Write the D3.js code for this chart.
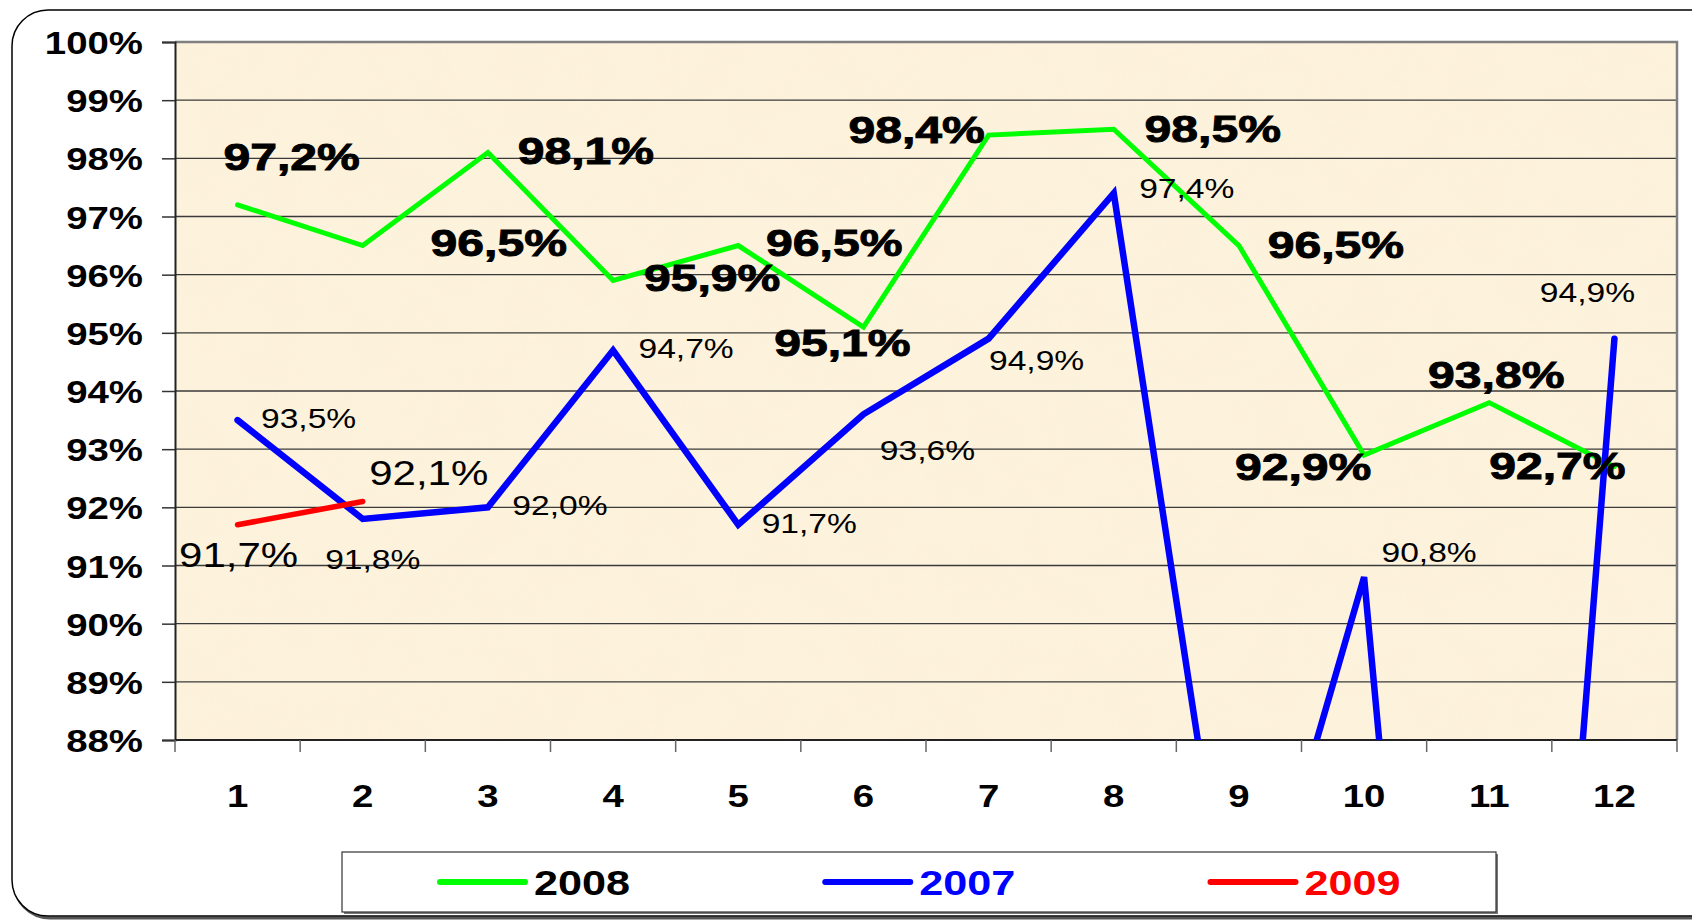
<!DOCTYPE html>
<html>
<head>
<meta charset="utf-8">
<script src="https://cdn.jsdelivr.net/npm/d3@7/dist/d3.min.js"></script>
<style>
  html, body { margin: 0; padding: 0; background: #fff; overflow: hidden; }
  svg { display: block; }
  text { font-family: "Liberation Sans", Arial, sans-serif; }
</style>
</head>
<body>
<div id="chart"></div>
<script>
// Données
const months = ["1", "2", "3", "4", "5", "6", "7", "8", "9", "10", "11", "12"];
const yTickValues = [88, 89, 90, 91, 92, 93, 94, 95, 96, 97, 98, 99, 100];
const values2008 = [97.2, 96.5, 98.1, 95.9, 96.5, 95.1, 98.4, 98.5, 96.5, 92.9, 93.8, 92.7];
const values2007 = [93.5, 91.8, 92.0, 94.7, 91.7, 93.6, 94.9, 97.4, 83.4, 90.8, 67.6, 94.9];
const values2009 = [91.7, 92.1];
const labels2008 = ["97,2%", "96,5%", "98,1%", "95,9%", "96,5%", "95,1%", "98,4%", "98,5%", "96,5%", "92,9%", "93,8%", "92,7%"];
const labels2007 = ["93,5%", "91,8%", "92,0%", "94,7%", "91,7%", "93,6%", "94,9%", "97,4%", null, "90,8%", null, "94,9%"];
const labels2009 = ["91,7%", "92,1%"];
const legendNames = ["2008", "2007", "2009"];

// Placement des étiquettes (décalage en px par rapport au point)
const offsets2008 = [[54, -48], [136, -3], [98, -2], [99, -3], [96, -3], [-21, 16], [-72, -5], [99, -1], [97, -1], [-61, 12], [7, -28], [-57, -1]];
const offsets2007 = [[71, -2], [10, 40], [72, -2], [73, -2], [71, -2], [64, 36], [48, 21], [73, -5], null, [65, -25], null, [-27, -47]];
const offsets2009 = [[1, 30], [66, -29]];

const WIDTH = 1692, HEIGHT = 920;
const PLOT = { left: 175, right: 1677, top: 42, bottom: 740 };
const STRETCH = 1.2; // texte élargi comme dans l'original

const svg = d3.select("#chart").append("svg")
    .attr("width", WIDTH)
    .attr("height", HEIGHT);

const defs = svg.append("defs");

// Texture papier
const paper = defs.append("filter").attr("id", "paper")
    .attr("x", 0).attr("y", 0).attr("width", 1).attr("height", 1);
paper.append("feTurbulence")
    .attr("type", "fractalNoise")
    .attr("baseFrequency", 0.02)
    .attr("numOctaves", 4)
    .attr("seed", 7);
paper.append("feColorMatrix")
    .attr("type", "matrix")
    .attr("values", "0 0 0 0 0.95  0 0 0 0 0.86  0 0 0 0 0.68  0.8 0 0 0 -0.36");

defs.append("clipPath").attr("id", "plot-clip")
    .append("rect")
    .attr("x", PLOT.left)
    .attr("y", PLOT.top)
    .attr("width", PLOT.right - PLOT.left)
    .attr("height", PLOT.bottom - PLOT.top);

// Cadre arrondi
svg.append("rect")
    .attr("x", 14).attr("y", 12)
    .attr("width", 1720).attr("height", 906)
    .attr("rx", 36)
    .attr("fill", "none")
    .attr("stroke", "#555")
    .attr("stroke-width", 3);
svg.append("rect")
    .attr("x", 12).attr("y", 10)
    .attr("width", 1720).attr("height", 906)
    .attr("rx", 36)
    .attr("fill", "#fff")
    .attr("stroke", "#000")
    .attr("stroke-width", 1.5);

// Échelles
const x = d3.scaleBand()
    .domain(months)
    .range([PLOT.left, PLOT.right]);
const cx = m => x(m) + x.bandwidth() / 2;

const y = d3.scaleLinear()
    .domain([88, 100])
    .range([PLOT.bottom, PLOT.top]);

// Fond
svg.append("rect")
    .attr("x", PLOT.left).attr("y", PLOT.top)
    .attr("width", PLOT.right - PLOT.left)
    .attr("height", PLOT.bottom - PLOT.top)
    .attr("fill", "#fdf2dc");
svg.append("rect")
    .attr("x", PLOT.left).attr("y", PLOT.top)
    .attr("width", PLOT.right - PLOT.left)
    .attr("height", PLOT.bottom - PLOT.top)
    .attr("filter", "url(#paper)")
    .attr("opacity", 0.7);

// Grille
svg.append("g")
    .selectAll("line")
    .data(yTickValues.filter(v => v > 88 && v < 100))
    .join("line")
    .attr("x1", PLOT.left).attr("x2", PLOT.right)
    .attr("y1", d => y(d)).attr("y2", d => y(d))
    .attr("stroke", "#3a3a3a")
    .attr("stroke-width", 1.3);

// Bordure haut / droite
svg.append("path")
    .attr("d", `M${PLOT.left},${PLOT.top}H${PLOT.right}V${PLOT.bottom}`)
    .attr("fill", "none")
    .attr("stroke", "#808080")
    .attr("stroke-width", 2.5);

// Axe Y
const yAxis = svg.append("g")
    .attr("transform", `translate(${PLOT.left},0)`)
    .call(d3.axisLeft(y).tickValues(yTickValues).tickSize(13).tickPadding(32).tickFormat(d => d + "%"));
yAxis.select(".domain").attr("stroke", "#222").attr("stroke-width", 2);
yAxis.selectAll(".tick line").attr("stroke", "#333").attr("stroke-width", 1.5);
yAxis.selectAll(".tick text")
    .attr("font-size", 32)
    .attr("font-weight", "bold")
    .attr("fill", "#000")
    .attr("font-family", "'Liberation Sans', Arial, sans-serif")
    .attr("dy", "0.36em")
    .attr("x", -32 / STRETCH)
    .attr("transform", `scale(${STRETCH},1)`);

// Axe X (graduations entre catégories)
const xAxisG = svg.append("g");
xAxisG.append("line")
    .attr("x1", PLOT.left).attr("x2", PLOT.right)
    .attr("y1", PLOT.bottom).attr("y2", PLOT.bottom)
    .attr("stroke", "#222").attr("stroke-width", 2);
xAxisG.selectAll(".xtick")
    .data(months.concat(["end"]))
    .join("line")
    .attr("x1", (d, i) => i < months.length ? x(d) : PLOT.right)
    .attr("x2", (d, i) => i < months.length ? x(d) : PLOT.right)
    .attr("y1", PLOT.bottom)
    .attr("y2", PLOT.bottom + 12)
    .attr("stroke", "#666")
    .attr("stroke-width", 1.5);
xAxisG.selectAll(".xlabel")
    .data(months)
    .join("text")
    .attr("transform", d => `translate(${cx(d)},795) scale(${STRETCH},1)`)
    .attr("text-anchor", "middle")
    .attr("dy", "0.36em")
    .attr("font-size", 32)
    .attr("font-weight", "bold")
    .text(d => d);

// Courbes
const lineGen = d3.line()
    .x((d, i) => cx(months[i]))
    .y(d => y(d));

const series = [
    { name: "2008", values: values2008, color: "#00ff00", width: 5 },
    { name: "2007", values: values2007, color: "#0000ff", width: 6.5 },
    { name: "2009", values: values2009, color: "#ff0000", width: 5.5 }
];

const linesG = svg.append("g").attr("clip-path", "url(#plot-clip)");
series.forEach(s => {
    linesG.append("path")
        .attr("d", lineGen(s.values))
        .attr("fill", "none")
        .attr("stroke", s.color)
        .attr("stroke-width", s.width)
        .attr("stroke-linejoin", "miter")
        .attr("stroke-linecap", "round");
});

// Étiquettes de données
function addLabels(values, labels, offsets, style) {
    const g = svg.append("g");
    values.forEach((v, i) => {
        if (!labels[i]) return;
        const px = cx(months[i]) + offsets[i][0];
        const py = y(v) + offsets[i][1];
        const t = g.append("text")
            .attr("transform", `translate(${px},${py}) scale(${style.stretch},1)`)
            .attr("text-anchor", "middle")
            .attr("dy", "0.36em")
            .attr("font-size", style.size)
            .attr("font-weight", style.weight)
            .attr("fill", "#000")
            .text(labels[i]);
        if (style.stroke) {
            t.attr("stroke", "#000").attr("stroke-width", style.stroke);
        }
    });
}

addLabels(values2008, labels2008, offsets2008, { size: 37, weight: "bold", stretch: 1.3, stroke: 0.9 });
addLabels(values2007, labels2007, offsets2007, { size: 28, weight: "normal", stretch: STRETCH });
addLabels(values2009, labels2009, offsets2009, { size: 35, weight: "normal", stretch: STRETCH });

// Légende
const legend = { left: 342, top: 852, width: 1154, height: 60 };
svg.append("rect")
    .attr("x", legend.left + 2).attr("y", legend.top + 2)
    .attr("width", legend.width).attr("height", legend.height)
    .attr("fill", "#777");
svg.append("rect")
    .attr("x", legend.left).attr("y", legend.top)
    .attr("width", legend.width).attr("height", legend.height)
    .attr("fill", "#fff")
    .attr("stroke", "#333")
    .attr("stroke-width", 1.2);

const legendColors = ["#00ff00", "#0000ff", "#ff0000"];
const legendTextColors = ["#000", "#0000ff", "#ff0000"];
const legendX = d3.scalePoint()
    .domain(legendNames)
    .range([440, 1210.5]);
const legendItems = svg.append("g")
    .selectAll("g")
    .data(legendNames)
    .join("g")
    .attr("transform", d => `translate(${legendX(d)},882)`);
legendItems.append("line")
    .attr("x1", 0).attr("x2", 85)
    .attr("stroke", (d, i) => legendColors[i])
    .attr("stroke-width", 6)
    .attr("stroke-linecap", "round");
legendItems.append("text")
    .attr("transform", `translate(94,0) scale(${STRETCH},1)`)
    .attr("dy", "0.36em")
    .attr("font-size", 36)
    .attr("font-weight", "bold")
    .attr("fill", (d, i) => legendTextColors[i])
    .text(d => d);
</script>
</body>
</html>
